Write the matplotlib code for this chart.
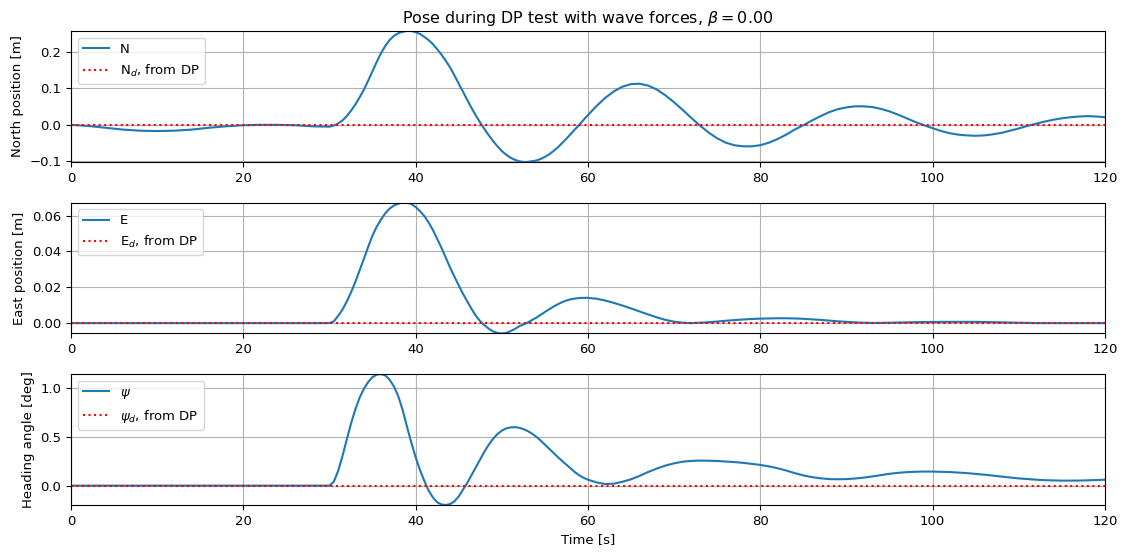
import numpy as np
import matplotlib
matplotlib.use('Agg')
import matplotlib.pyplot as plt

plt.rcParams['font.size'] = 9.5

# time axis [s]: coarse at rest, fine while the wave transient is steep, 1 s afterwards
time = np.concatenate([np.arange(0, 30, 2), np.arange(30, 60.5, 0.5), np.arange(61, 121, 1)])

# north position [m]
north = [
    0.0, -0.003, -0.008, -0.013, -0.016, -0.017, -0.016, -0.013, -0.008, -0.004,
    -0.001, 0.0, 0.0, -0.001, -0.004,
    # 30 .. 60 every 0.5 s
    -0.005, -0.002, 0.004, 0.012, 0.024, 0.039, 0.056, 0.076, 0.097, 0.122,
    0.148, 0.174, 0.198, 0.218, 0.234, 0.245, 0.252, 0.256, 0.258, 0.258,
    0.255, 0.25, 0.242, 0.233, 0.222, 0.208, 0.193, 0.176, 0.158, 0.136,
    0.113, 0.091, 0.068, 0.046, 0.025, 0.006, -0.012, -0.029, -0.045, -0.059,
    -0.072, -0.082, -0.09, -0.096, -0.1, -0.102, -0.102, -0.1, -0.098, -0.094,
    -0.088, -0.081, -0.072, -0.062, -0.05, -0.038, -0.025, -0.012, 0.0, 0.014,
    0.027,
    # 61 .. 120
    0.052, 0.074, 0.092, 0.105, 0.112, 0.113, 0.108, 0.097, 0.081, 0.062,
    0.041, 0.019, -0.002, -0.021, -0.037, -0.049, -0.056, -0.059, -0.059, -0.056,
    -0.049, -0.039, -0.027, -0.013, -0.001, 0.012, 0.024, 0.035, 0.043, 0.048,
    0.051, 0.051, 0.049, 0.044, 0.037, 0.028, 0.018, 0.008, -0.001, -0.009,
    -0.017, -0.023, -0.027, -0.029, -0.03, -0.029, -0.026, -0.022, -0.016, -0.01,
    -0.003, 0.003, 0.009, 0.014, 0.018, 0.021, 0.023, 0.024, 0.023, 0.021,
]

# east position [m]
east = [
    0.0, 0.0, 0.0, 0.0, 0.0, 0.0, 0.0, 0.0, 0.0, 0.0,
    0.0, 0.0, 0.0, 0.0, 0.0,
    # 30 .. 60 every 0.5 s
    0.0, 0.001, 0.004, 0.0075, 0.012, 0.0172, 0.023, 0.0295, 0.036, 0.0427,
    0.049, 0.054, 0.058, 0.0615, 0.064, 0.0657, 0.0667, 0.0673, 0.0673, 0.0665,
    0.0648, 0.0625, 0.0598, 0.0562, 0.052, 0.047, 0.042, 0.0365, 0.031, 0.026,
    0.021, 0.0163, 0.012, 0.0078, 0.004, 0.001, -0.0012, -0.0032, -0.0047, -0.0055,
    -0.0058, -0.0055, -0.0045, -0.0033, -0.0018, -0.0008, 0.0003, 0.0017, 0.003, 0.0046,
    0.0062, 0.0077, 0.0092, 0.0105, 0.0117, 0.0126, 0.0133, 0.0137, 0.014, 0.0141,
    0.0141,
    # 61 .. 120
    0.0136, 0.0126, 0.0113, 0.0098, 0.0082, 0.0065, 0.0048, 0.0032, 0.0018, 0.0008,
    0.0002, 0.0, 0.0002, 0.0005, 0.0009, 0.0013, 0.0017, 0.002, 0.0023, 0.0025,
    0.0026, 0.0027, 0.0027, 0.0026, 0.0024, 0.0021, 0.0018, 0.0014, 0.001, 0.0007,
    0.0004, 0.0002, 0.0001, 0.0001, 0.0002, 0.0003, 0.0004, 0.0005, 0.0006, 0.0006,
    0.0007, 0.0007, 0.0007, 0.0007, 0.0007, 0.0006, 0.0005, 0.0004, 0.0003, 0.0002,
    0.0001, 0.0, 0.0, 0.0, 0.0, 0.0, 0.0, 0.0, 0.0, 0.0,
]

# heading angle [deg]
heading = [
    0.0, 0.0, 0.0, 0.0, 0.0, 0.0, 0.0, 0.0, 0.0, 0.0,
    0.0, 0.0, 0.0, 0.0, 0.0,
    # 30 .. 60 every 0.5 s
    0.0, 0.04, 0.15, 0.30, 0.47, 0.635, 0.78, 0.90, 0.99, 1.06,
    1.11, 1.135, 1.14, 1.125, 1.08, 1.01, 0.91, 0.77, 0.6, 0.44,
    0.29, 0.16, 0.05, -0.05, -0.12, -0.17, -0.192, -0.198, -0.188, -0.16,
    -0.11, -0.04, 0.03, 0.11, 0.19, 0.27, 0.35, 0.42, 0.48, 0.528,
    0.562, 0.585, 0.595, 0.598, 0.592, 0.578, 0.558, 0.532, 0.50, 0.462,
    0.42, 0.377, 0.334, 0.292, 0.252, 0.214, 0.175, 0.137, 0.105, 0.08,
    0.061,
    # 61 .. 120
    0.033, 0.016, 0.02, 0.04, 0.065, 0.1, 0.14, 0.175, 0.205, 0.228,
    0.245, 0.253, 0.256, 0.255, 0.252, 0.247, 0.241, 0.233, 0.223, 0.212,
    0.197, 0.178, 0.155, 0.128, 0.105, 0.087, 0.075, 0.067, 0.065, 0.067,
    0.073, 0.082, 0.094, 0.108, 0.121, 0.131, 0.138, 0.142, 0.144, 0.144,
    0.142, 0.139, 0.134, 0.128, 0.12, 0.112, 0.102, 0.092, 0.083, 0.074,
    0.067, 0.061, 0.056, 0.053, 0.051, 0.051, 0.052, 0.054, 0.057, 0.061,
]

# reference from the DP controller is zero all the way
north_ref = np.zeros(len(time))
east_ref = np.zeros(len(time))
heading_ref = np.zeros(len(time))

panels = [
    (north, north_ref, 'N', 'N$_d$, from DP', 'North position [m]'),
    (east, east_ref, 'E', 'E$_d$, from DP', 'East position [m]'),
    (heading, heading_ref, r'$\psi$', r'$\psi_d$, from DP', 'Heading angle [deg]'),
]

fig, axes = plt.subplots(3, 1, figsize=(11.24, 5.52), dpi=100)
fig.subplots_adjust(left=0.0632, right=0.983, top=0.9438, bottom=0.0851, hspace=0.31)

for ax, (y, y_ref, lab, lab_ref, ylab) in zip(axes, panels):
    ax.plot(time, y, label=lab)
    ax.plot(time, y_ref, 'r:', label=lab_ref)
    ax.margins(x=0, y=0)
    ax.set_xlim(0, 120)
    ax.set_ylabel(ylab)
    ax.grid(True)
    ax.legend(loc='upper left')

axes[0].set_title(r'Pose during DP test with wave forces, $\beta = 0.00$')
axes[2].set_xlabel('Time [s]')

plt.savefig('out.png')
